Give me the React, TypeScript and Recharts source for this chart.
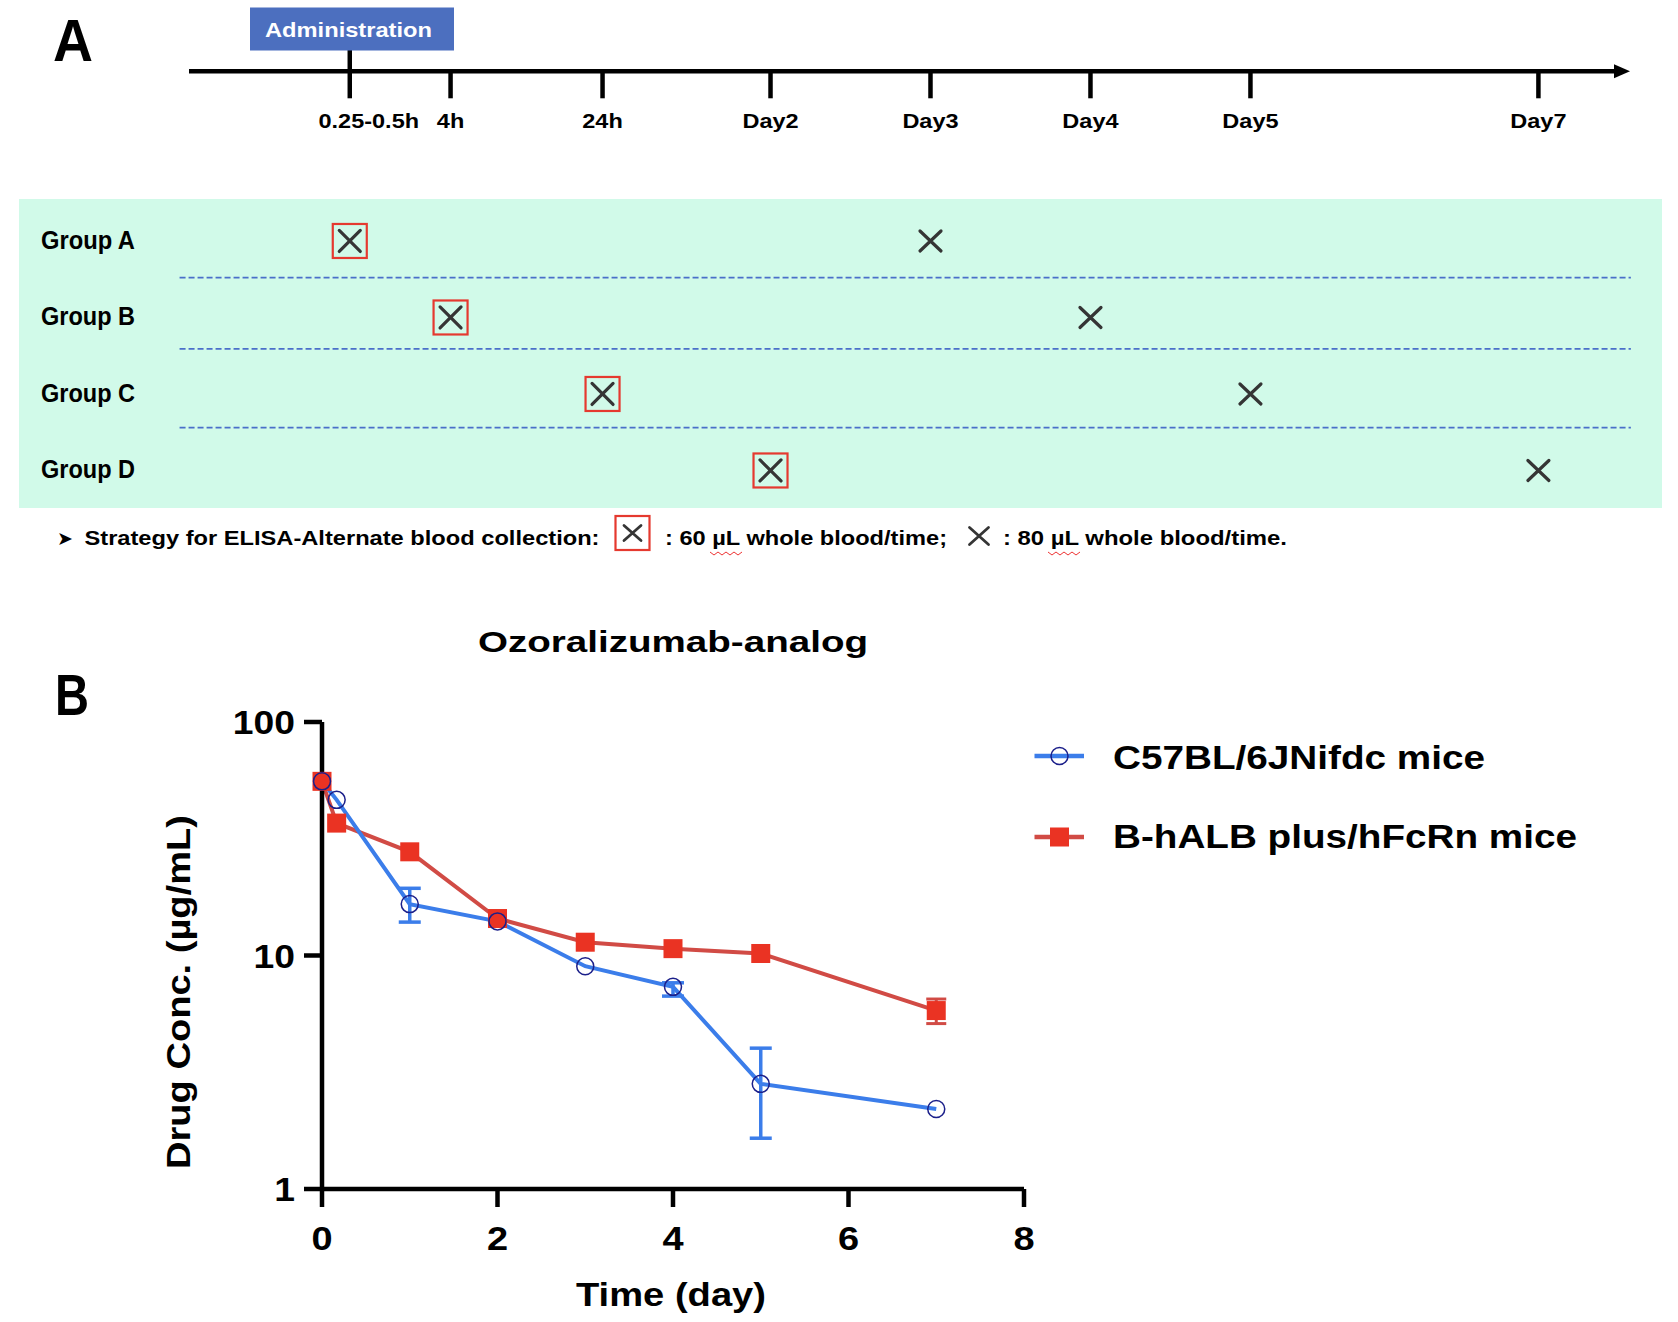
import React from 'react';
import {
  ScatterChart, Scatter, LineChart, Line, XAxis, YAxis,
  ErrorBar, ReferenceLine, ReferenceDot,
} from 'recharts';

const FONT = '"Liberation Sans", Arial, Helvetica, sans-serif';

// Panel A – sampling schedule
const timepoints = ['0.25-0.5h', '4h', '24h', 'Day2', 'Day3', 'Day4', 'Day5', 'Day7'];
// where each time point sits on the schematic (not linear) timeline
const timelineSlot = [-0.58, 0.05, 1, 2.05, 3.05, 4.05, 5.05, 6.85];
const groups = ['Group A', 'Group B', 'Group C', 'Group D'];
const firstDraw = ['0.25-0.5h', '4h', '24h', 'Day2']; // 60 µL, boxed cross
const secondDraw = ['Day3', 'Day4', 'Day5', 'Day7']; // 80 µL, plain cross

// Panel B – Ozoralizumab-analog concentration (µg/mL)
const sampleDays = [0, 0.167, 1, 2, 3, 4, 5, 7];
const c57Conc = [55.7, 46.4, 16.6, 14.0, 9.0, 7.34, 2.82, 2.2];
const c57Err = [null, null, [2.7, 2.8], null, null, [0.64, 0.3], [1.17, 1.19], null];
const hfcrnConc = [55.7, 36.9, 27.8, 14.4, 11.4, 10.7, 10.2, 5.81];
const hfcrnErr = [null, null, null, null, null, null, null, [0.7, 0.7]];
const seriesNames = ['C57BL/6JNifdc mice', 'B-hALB plus/hFcRn mice'];
const xTicks = [0, 2, 4, 6, 8];
const yTicks = [1, 10, 100];

const slotOf = (tp: string) => timelineSlot[timepoints.indexOf(tp)];
const firstDrawPts = firstDraw.map((tp, i) => ({ x: slotOf(tp), y: i }));
const secondDrawPts = secondDraw.map((tp, i) => ({ x: slotOf(tp), y: i }));
const pkRows = sampleDays.map((d, i) => ({
  day: d, c57: c57Conc[i], c57Err: c57Err[i], hfcrn: hfcrnConc[i], hfcrnErr: hfcrnErr[i],
}));

const BLUE = '#3b7dea';
const RED_LINE = '#d14b45';
const RED_MARK = '#ea3323';
const NAVY = '#1b1f8a';

const XMark = ({ cx, cy, hw = 10.5, hh = 10, sw = 3.2 }: any) => (
  <path
    d={`M${cx - hw},${cy - hh}L${cx + hw},${cy + hh}M${cx + hw},${cy - hh}L${cx - hw},${cy + hh}`}
    stroke="#353535" strokeWidth={sw} strokeLinecap="round" fill="none"
  />
);

const BoxedX = ({ cx, cy, half = 17, hw = 10.5, hh = 10.5, sw = 3.2 }: any) => (
  <g>
    <rect x={cx - half} y={cy - half} width={half * 2} height={half * 2} fill="none" stroke="#e5392f" strokeWidth={2.2} />
    <XMark cx={cx} cy={cy} hw={hw} hh={hh} sw={sw} />
  </g>
);

const Txt = ({ x, y, w, size, children, fill = '#000', transform }: any) => (
  <text
    x={x} y={y} fontSize={size} fontWeight="bold" fontFamily={FONT} fill={fill}
    textLength={w} lengthAdjust="spacingAndGlyphs" transform={transform}
  >
    {children}
  </text>
);

const TimelineTick = (p: any) => {
  const label = timepoints[timelineSlot.indexOf(p.payload.value)];
  const dx = label === '0.25-0.5h' ? 19 : 0;
  return (
    <g transform={`translate(${p.x + dx},${p.y + 30}) scale(1.12,1)`}>
      <text textAnchor="middle" fontFamily={FONT} fontWeight="bold" fontSize={21} fill="#000">{label}</text>
    </g>
  );
};

const GroupTick = (p: any) => (
  <text x={41} y={p.y + 8} fontFamily={FONT} fontWeight="bold" fontSize={25} fill="#000"
    textLength={94} lengthAdjust="spacingAndGlyphs">
    {groups[p.payload.value]}
  </text>
);

const ConcTick = (p: any) => (
  <g transform={`translate(${p.x},${p.y + 12}) scale(1.13,1)`}>
    <text textAnchor="end" fontFamily={FONT} fontWeight="bold" fontSize={33} fill="#000">{p.payload.value}</text>
  </g>
);

const DayTick = (p: any) => (
  <g transform={`translate(${p.x},${p.y + 35}) scale(1.15,1)`}>
    <text textAnchor="middle" fontFamily={FONT} fontWeight="bold" fontSize={33} fill="#000">{p.payload.value}</text>
  </g>
);

const separatorRows = [0.48, 1.41, 2.44];

function ScheduleChart() {
  return (
    <ScatterChart width={1678} height={520} margin={{ top: 71.3, right: 62, bottom: 12.5, left: 0 }}>
      <XAxis
        type="number" dataKey="x" domain={[-1.585, 7.335]} allowDataOverflow
        ticks={timelineSlot} orientation="top" mirror tickSize={27} tickMargin={0}
        axisLine={{ stroke: '#000', strokeWidth: 4.5 }}
        tickLine={{ stroke: '#000', strokeWidth: 4.5 }}
        tick={<TimelineTick />} interval={0}
      />
      <YAxis
        type="number" dataKey="y" domain={[-2.218, 3.484]} allowDataOverflow reversed
        ticks={[0, 1, 2, 3]} width={189} axisLine={false} tickLine={false}
        tick={<GroupTick />} interval={0}
      />
      {separatorRows.map((r) => (
        <ReferenceLine
          key={r} ifOverflow="visible"
          segment={[{ x: -1.644, y: r }, { x: 7.428, y: r }]}
          stroke="#4a6fc9" strokeWidth={1.8} strokeDasharray="6 3"
        />
      ))}
      <ReferenceLine
        ifOverflow="visible"
        segment={[{ x: slotOf('0.25-0.5h'), y: -2.5 }, { x: slotOf('0.25-0.5h'), y: -2.218 }]}
        stroke="#000" strokeWidth={4.5}
      />
      <ReferenceDot
        x={7.335} y={-2.218} ifOverflow="visible"
        shape={(p: any) => (
          <polygon points={`${p.cx - 2},${p.cy - 7} ${p.cx + 14},${p.cy} ${p.cx - 2},${p.cy + 7}`} fill="#000" />
        )}
      />
      <Scatter
        data={firstDrawPts} isAnimationActive={false}
        shape={(p: any) => <BoxedX cx={p.cx} cy={p.cy} />}
      />
      <Scatter
        data={secondDrawPts} isAnimationActive={false}
        shape={(p: any) => <XMark cx={p.cx} cy={p.cy} />}
      />
    </ScatterChart>
  );
}

function PkChart() {
  return (
    <LineChart width={1678} height={722} data={pkRows} margin={{ top: 122, right: 654, bottom: 53, left: 222 }}>
      <XAxis
        type="number" dataKey="day" domain={[0, 8]} ticks={xTicks} interval={0}
        height={80} tickSize={18} tickMargin={8}
        axisLine={{ stroke: '#000', strokeWidth: 4.5 }}
        tickLine={{ stroke: '#000', strokeWidth: 4.5 }}
        tick={<DayTick />}
      />
      <YAxis
        type="number" scale="log" domain={[1, 100]} ticks={yTicks} interval={0}
        width={100} tickSize={18} tickMargin={9}
        axisLine={{ stroke: '#000', strokeWidth: 4.5 }}
        tickLine={{ stroke: '#000', strokeWidth: 4.5 }}
        tick={<ConcTick />}
      />
      <Line
        type="linear" dataKey="hfcrn" name={seriesNames[1]} stroke={RED_LINE} strokeWidth={4}
        isAnimationActive={false} activeDot={false}
        dot={(p: any) => <rect key={`r${p.index}`} x={p.cx - 9.5} y={p.cy - 9.5} width={19} height={19} fill={RED_MARK} />}
      >
        <ErrorBar dataKey="hfcrnErr" direction="y" width={10} stroke={RED_LINE} strokeWidth={3} isAnimationActive={false} />
      </Line>
      <Line
        type="linear" dataKey="c57" name={seriesNames[0]} stroke={BLUE} strokeWidth={4}
        isAnimationActive={false} activeDot={false}
        dot={(p: any) => <circle key={`c${p.index}`} cx={p.cx} cy={p.cy} r={8.5} fill="none" stroke={NAVY} strokeWidth={1.5} />}
      >
        <ErrorBar dataKey="c57Err" direction="y" width={11} stroke={BLUE} strokeWidth={3.5} isAnimationActive={false} />
      </Line>
    </LineChart>
  );
}

function Overlay() {
  return (
    <svg width={1678} height={1322} style={{ position: 'absolute', left: 0, top: 0, pointerEvents: 'none' }}>
      {/* panel letters */}
      <Txt x={53} y={61} w={40} size={60}>A</Txt>
      <Txt x={55} y={715} w={34} size={57}>B</Txt>

      {/* administration flag */}
      <rect x={250} y={7.5} width={204} height={43} fill="#4c6fbf" />
      <Txt x={265} y={37} w={167} size={21} fill="#fff">Administration</Txt>

      {/* blood collection note */}
      <text x={57} y={545} fontSize={19} fontFamily='"DejaVu Sans", sans-serif' fill="#000">➤</text>
      <Txt x={84.5} y={545} w={515} size={20}>Strategy for ELISA-Alternate blood collection:</Txt>
      <BoxedX cx={632.5} cy={533} half={17} hw={8.5} hh={7.5} sw={2.8} />
      <Txt x={665} y={545} w={282} size={20}>: 60 µL whole blood/time;</Txt>
      <XMark cx={979} cy={536} hw={9.5} hh={8.5} sw={2.8} />
      <Txt x={1003} y={545} w={284} size={20}>: 80 µL whole blood/time.</Txt>
      {[710, 1048].map((x0) => (
        <path key={x0} d={`M${x0},552 l4,3 l4,-3 l4,3 l4,-3 l4,3 l4,-3 l4,3 l4,-3`} stroke="#e33" strokeWidth={1} fill="none" />
      ))}

      {/* panel B texts */}
      <Txt x={478} y={652} w={390} size={30}>Ozoralizumab-analog</Txt>
      <Txt x={576} y={1306} w={190} size={33}>Time (day)</Txt>
      <Txt x={0} y={0} w={354} size={33} transform="translate(190,1169) rotate(-90)">Drug Conc. (µg/mL)</Txt>

      {/* legend */}
      <line x1={1034.5} y1={756} x2={1084} y2={756} stroke={BLUE} strokeWidth={4.5} />
      <circle cx={1059.5} cy={756} r={8.5} fill="none" stroke={NAVY} strokeWidth={1.5} />
      <Txt x={1113} y={769} w={372} size={33.5}>{seriesNames[0]}</Txt>
      <line x1={1034.5} y1={837} x2={1084} y2={837} stroke={RED_LINE} strokeWidth={4.5} />
      <rect x={1050} y={827.5} width={19} height={19} fill={RED_MARK} />
      <Txt x={1113} y={848} w={464} size={33.5}>{seriesNames[1]}</Txt>
    </svg>
  );
}

export default function App() {
  return (
    <div style={{ position: 'relative', width: 1678, height: 1322, background: '#fff', overflow: 'hidden' }}>
      <style>{'body{margin:0}'}</style>
      <div style={{ position: 'absolute', left: 19, top: 198.5, width: 1643, height: 309, background: '#d1fae9' }} />
      <div style={{ position: 'absolute', left: 0, top: 0 }}>
        <ScheduleChart />
      </div>
      <div style={{ position: 'absolute', left: 0, top: 600 }}>
        <PkChart />
      </div>
      <Overlay />
    </div>
  );
}
